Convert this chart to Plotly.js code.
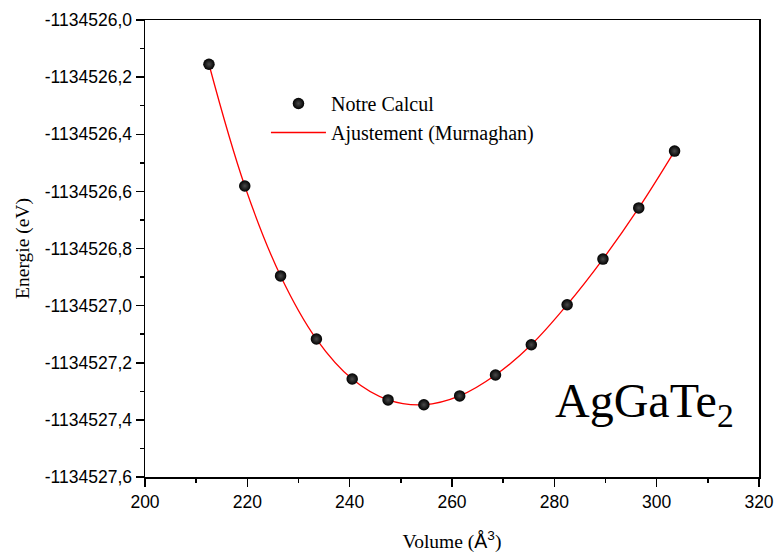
<!DOCTYPE html>
<html>
<head>
<meta charset="utf-8">
<script src="https://cdn.plot.ly/plotly-3.0.1.min.js"></script>
<style>html,body{margin:0;padding:0;background:#fff;}</style>
</head>
<body>
<div id="chart" style="width:776px;height:557px;"></div>
<script>
var volumes = [212.5, 219.5, 226.5, 233.5, 240.5, 247.5, 254.5, 261.5, 268.5, 275.5, 282.5, 289.5, 296.5, 303.5];
var energies = [-1134526.155, -1134526.581, -1134526.896, -1134527.117, -1134527.257, -1134527.330, -1134527.347,
                -1134527.316, -1134527.243, -1134527.137, -1134526.997, -1134526.837, -1134526.658, -1134526.459];
var seriesNames = ["Notre Calcul", "Ajustement (Murnaghan)"];
var yTickVals = [-1134527.6, -1134527.4, -1134527.2, -1134527.0, -1134526.8, -1134526.6, -1134526.4, -1134526.2, -1134526.0];
var yTickText = ["-1134527,6", "-1134527,4", "-1134527,2", "-1134527,0", "-1134526,8", "-1134526,6", "-1134526,4", "-1134526,2", "-1134526,0"];
var xTickVals = [200, 220, 240, 260, 280, 300, 320];
var xTickText = ["200", "220", "240", "260", "280", "300", "320"];
var compoundLabel = "AgGaTe<sub>2</sub>";

var serif = "Liberation Serif, Times New Roman, serif";
var sans = "Liberation Sans, Arial, sans-serif";

var traces = [
  {
    x: volumes, y: energies, mode: "lines", name: seriesNames[1],
    line: {color: "#ff0000", width: 1.3, shape: "spline", smoothing: 1.1},
    showlegend: true, legendrank: 2
  },
  {
    x: volumes, y: energies, mode: "markers", name: seriesNames[0],
    marker: {color: "#000000", size: 11.5, gradient: {type: "radial", color: "#4a4a4a"}},
    showlegend: true, legendrank: 1
  }
];

var layout = {
  width: 776, height: 557,
  margin: {l: 145, r: 17, t: 20, b: 80},
  paper_bgcolor: "#fff", plot_bgcolor: "#fff",
  showlegend: true,
  legend: {
    x: 0.197, y: 0.86, xanchor: "left", yanchor: "top",
    font: {family: serif, size: 20, color: "#000"},
    bgcolor: "rgba(0,0,0,0)", tracegroupgap: 0, itemwidth: 55,
    traceorder: "normal",
    itemclick: false, itemdoubleclick: false
  },
  xaxis: {
    range: [200, 320], tickmode: "array", tickvals: xTickVals, ticktext: xTickText,
    showgrid: false, zeroline: false,
    showline: true, linecolor: "#000", linewidth: 1.5, mirror: true,
    ticks: "outside", ticklen: 8, tickwidth: 1.5, tickcolor: "#000",
    minor: {dtick: 10, tick0: 200, ticks: "outside", ticklen: 4, tickwidth: 1.5, tickcolor: "#000"},
    tickfont: {family: sans, size: 17.5, color: "#000"},
    title: {text: "Volume (<span style=\"font-family:Liberation Sans\">Å<sup>3</sup></span>)", font: {family: serif, size: 19.5, color: "#000"}, standoff: 24}
  },
  yaxis: {
    range: [-1134527.6, -1134526.0], tickmode: "array", tickvals: yTickVals, ticktext: yTickText,
    showgrid: false, zeroline: false,
    showline: true, linecolor: "#000", linewidth: 1.5, mirror: true,
    ticks: "outside", ticklen: 8, tickwidth: 1.5, tickcolor: "#000",
    minor: {dtick: 0.1, tick0: -1134527.6, ticks: "outside", ticklen: 4, tickwidth: 1.5, tickcolor: "#000"},
    tickfont: {family: sans, size: 17.5, color: "#000"},
    title: {text: "Energie (eV)", font: {family: serif, size: 19.5, color: "#000"}, standoff: 10}
  },
  annotations: [
    {
      xref: "paper", yref: "paper", x: 0.962, y: 0.16, xanchor: "right", yanchor: "middle",
      text: compoundLabel, showarrow: false,
      font: {family: serif, size: 48, color: "#000"}
    }
  ]
};

Plotly.newPlot("chart", traces, layout, {displayModeBar: false, staticPlot: true});
</script>
</body>
</html>
